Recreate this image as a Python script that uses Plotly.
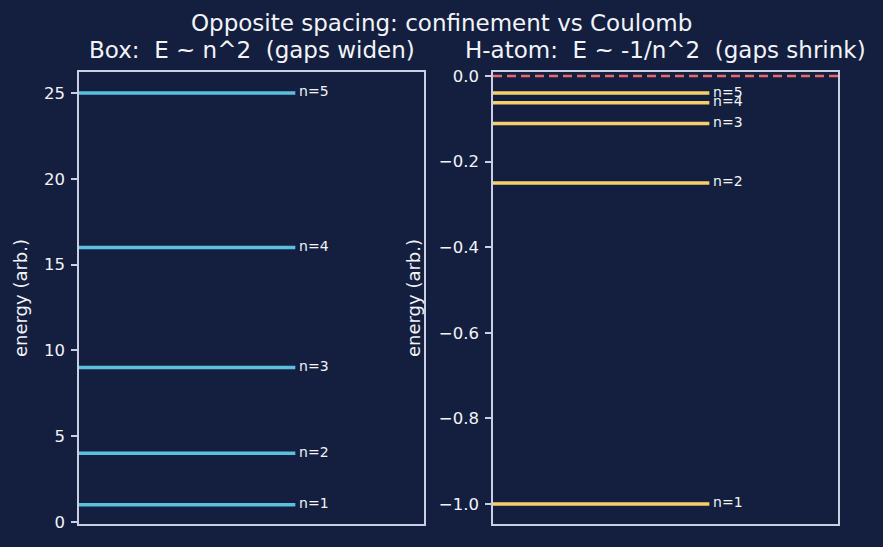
import plotly.graph_objects as go

# Data
box_n = [1, 2, 3, 4, 5]
box_E = [1, 4, 9, 16, 25]
h_n = [1, 2, 3, 4, 5]
h_E = [-1.0, -0.25, -0.1111, -0.0625, -0.04]
box_ticks = [0, 5, 10, 15, 20, 25]
h_ticks = [-1.0, -0.8, -0.6, -0.4, -0.2, 0.0]
h_ticklabels = ["\u22121.0", "\u22120.8", "\u22120.6", "\u22120.4", "\u22120.2", "0.0"]

BG = "#141f3f"
FRAME = "#c9d0e3"
TXT = "#f2f4f8"
CYAN = "#5bc0de"
GOLD = "#f5d06a"
RED = "#e8686c"
FONT = "DejaVu Sans"

LINE_X0, LINE_X1, LABEL_X = 0.0, 0.627, 0.638

fig = go.Figure()

for n, e in zip(box_n, box_E):
    fig.add_trace(go.Scatter(x=[LINE_X0, LINE_X1], y=[e, e], mode="lines",
                             line=dict(color=CYAN, width=3.5), xaxis="x", yaxis="y",
                             showlegend=False, hoverinfo="skip"))
fig.add_trace(go.Scatter(x=[LABEL_X] * len(box_n), y=box_E, mode="text",
                         text=[f"n={n}" for n in box_n], textposition="middle right",
                         textfont=dict(color=TXT, size=14, family=FONT),
                         xaxis="x", yaxis="y", showlegend=False, hoverinfo="skip"))

fig.add_trace(go.Scatter(x=[0, 1], y=[0, 0], mode="lines",
                         line=dict(color=RED, width=2.5, dash="9px,5px"),
                         xaxis="x2", yaxis="y2", showlegend=False, hoverinfo="skip"))
for n, e in zip(h_n, h_E):
    fig.add_trace(go.Scatter(x=[LINE_X0, LINE_X1], y=[e, e], mode="lines",
                             line=dict(color=GOLD, width=3.5), xaxis="x2", yaxis="y2",
                             showlegend=False, hoverinfo="skip"))
fig.add_trace(go.Scatter(x=[LABEL_X] * len(h_n), y=h_E, mode="text",
                         text=[f"n={n}" for n in h_n], textposition="middle right",
                         textfont=dict(color=TXT, size=14, family=FONT),
                         xaxis="x2", yaxis="y2", showlegend=False, hoverinfo="skip"))

axis_common = dict(showline=True, linecolor=FRAME, linewidth=1.5, mirror=True,
                   showgrid=False, zeroline=False, automargin=False)
ydom = [1 - 524 / 547, 1 - 72 / 547]

fig.update_layout(
    width=883, height=547,
    paper_bgcolor=BG, plot_bgcolor=BG,
    margin=dict(l=0, r=0, t=0, b=0, pad=0, autoexpand=False),
    font=dict(family=FONT, color=TXT, size=16),
    xaxis=dict(domain=[79 / 883, 424 / 883], range=[0, 1], showticklabels=False,
               ticks="", **axis_common),
    yaxis=dict(domain=ydom, range=[-0.12, 26.22], tickvals=box_ticks,
               ticks="outside", ticklen=6, tickwidth=1.5, tickcolor=FRAME,
               tickfont=dict(size=16.5, color=TXT), ticklabelstandoff=3,
               title=dict(text="energy (arb.)", font=dict(size=18, color=TXT), standoff=12),
               **axis_common),
    xaxis2=dict(domain=[493 / 883, 838 / 883], range=[0, 1], showticklabels=False,
                ticks="", anchor="y2", **axis_common),
    yaxis2=dict(domain=ydom, range=[-1.047, 0.0093], anchor="x2", tickvals=h_ticks,
                ticktext=h_ticklabels, ticks="outside", ticklen=6, tickwidth=1.5, tickcolor=FRAME,
                tickfont=dict(size=16.5, color=TXT), ticklabelstandoff=3,
                title=dict(text="energy (arb.)", font=dict(size=18, color=TXT), standoff=14),
                **axis_common),
    annotations=[
        dict(text="Opposite spacing: confinement vs Coulomb", x=0.5, y=1 - 23 / 547,
             xref="paper", yref="paper", showarrow=False, xanchor="center", yanchor="middle",
             font=dict(size=23, color=TXT)),
        dict(text="Box:  E ~ n^2  (gaps widen)", x=(79 + 424) / 2 / 883, y=1 - 50 / 547,
             xref="paper", yref="paper", showarrow=False, xanchor="center", yanchor="middle",
             font=dict(size=23, color=TXT)),
        dict(text="H-atom:  E ~ -1/n^2  (gaps shrink)", x=(493 + 838) / 2 / 883, y=1 - 50 / 547,
             xref="paper", yref="paper", showarrow=False, xanchor="center", yanchor="middle",
             font=dict(size=23, color=TXT)),
    ],
)

fig.write_html("out.html")
